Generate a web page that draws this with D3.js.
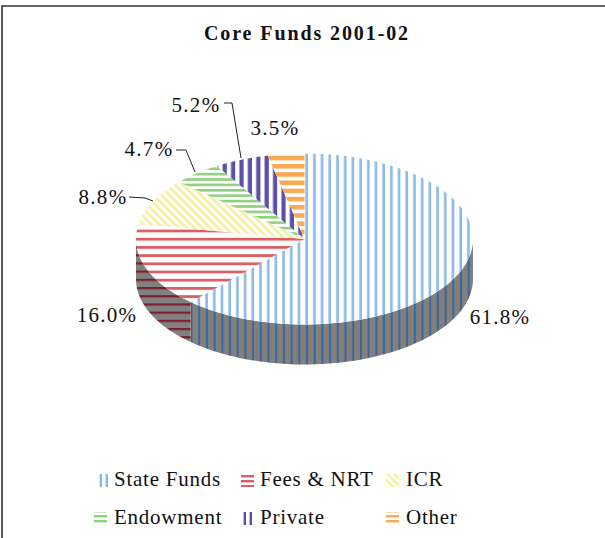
<!DOCTYPE html>
<html><head><meta charset="utf-8">
<script src="https://cdn.jsdelivr.net/npm/d3@7/dist/d3.min.js"></script>
<style>html,body{margin:0;padding:0;background:#fff}svg{display:block}text{font-family:"Liberation Serif",serif;fill:#111}</style>
</head><body><script>
const categories=["State Funds","Fees & NRT","ICR","Endowment","Private","Other"];
const shares=[61.8,16.0,8.8,4.7,5.2,3.5];
const labels=["61.8%","16.0%","8.8%","4.7%","5.2%","3.5%"];
const stripeColors=["#8db9e6","#dc5f66","#f7ee9e","#8ed07e","#5d50a8","#faa851"];
const wallStripeColors=["#3f6592","#7c1f2b","#808080","#808080","#808080","#808080"];
const stripeAngles=[90,0,45,0,90,0];
const stripePeriods=[7.7,8.2,5.6,5.4,8.4,8.2];
const stripeWidths=[2.6,2.8,2.6,2.6,4.2,4.5];
const wallWidths=[2,2.2,2,2,2,2];
const legendRows=[[0,1,2],[3,4,5]];
const W=605,H=538,cx=304.5,cy=239,rx=168.5,ry=85.5,depth=40;
const svg=d3.select("body").append("svg").attr("width",W).attr("height",H);
svg.append("path").attr("d",d3.line()([[2,H],[2,6],[W,6]])).attr("fill","none").attr("stroke","#333").attr("stroke-width",1.6);
const defs=svg.append("defs");
function pat(id,color,bg,ang,per,w){
  const p=defs.append("pattern").attr("id",id).attr("patternUnits","userSpaceOnUse").attr("width",per).attr("height",per).attr("patternTransform",`rotate(${ang})`);
  p.append("rect").attr("width",per).attr("height",per).attr("fill",bg);
  p.append("rect").attr("width",per).attr("height",w).attr("fill",color);
}
categories.forEach((c,i)=>{
  pat("p"+i,stripeColors[i],"#fff",stripeAngles[i],stripePeriods[i],stripeWidths[i]);
  pat("w"+i,wallStripeColors[i],"#808080",stripeAngles[i],stripePeriods[i],wallWidths[i]);
  const q=stripeAngles[i]===90?6:5;
  pat("l"+i,stripeColors[i],"#fff",stripeAngles[i],q,2.4);
});
const pie=d3.pie().sort(null).value(d=>d);
const arcs=pie(shares);
const pt=(a,dy=0)=>[cx+rx*Math.sin(a),cy-ry*Math.cos(a)+dy];
const line=d3.line();
const samples=(a0,a1,dy=0)=>d3.range(0,61).map(k=>pt(a0+(a1-a0)*k/60,dy));
arcs.forEach((d,i)=>{
  const a0=Math.max(d.startAngle,Math.PI/2),a1=Math.min(d.endAngle,Math.PI*1.5);
  if(a1<=a0)return;
  const poly=samples(a0,a1).concat(samples(a1,a0,depth));
  svg.append("path").attr("d",line(poly)+"Z").attr("fill",`url(#w${i})`);
});
arcs.forEach((d,i)=>{
  const poly=[[cx,cy]].concat(samples(d.startAngle,d.endAngle));
  svg.append("path").attr("d",line(poly)+"Z").attr("fill",`url(#p${i})`);
});
svg.append("text").attr("x",307).attr("y",40).attr("text-anchor","middle").attr("font-size",20).attr("font-weight","bold").attr("letter-spacing",1.9).text("Core Funds 2001-02");
const labelPos=[[500,324],[107,322],[103,204],[149,156],[196,112],[275,135]];
labels.forEach((t,i)=>svg.append("text").attr("x",labelPos[i][0]).attr("y",labelPos[i][1]).attr("text-anchor","middle").attr("font-size",21).attr("letter-spacing",1.3).text(t));
const leaders=[[[129,197],[145,198],[153,201]],[[176,150],[186,150],[195,172]],[[224,103],[232,103],[241,158]]];
leaders.forEach(l=>svg.append("path").attr("d",line(l)).attr("fill","none").attr("stroke","#222").attr("stroke-width",1));
const swatchX=[[97,241,386],[94,240,386]],textX=[114,260,406],rowY=[486,524];
legendRows.forEach((row,r)=>row.forEach((c,k)=>{
  svg.append("rect").attr("x",swatchX[r][k]).attr("y",rowY[r]-12).attr("width",13).attr("height",13).attr("fill",`url(#l${c})`);
  svg.append("text").attr("x",textX[k]).attr("y",rowY[r]).attr("font-size",21).attr("letter-spacing",0.75).text(categories[c]);
}));
</script></body></html>
